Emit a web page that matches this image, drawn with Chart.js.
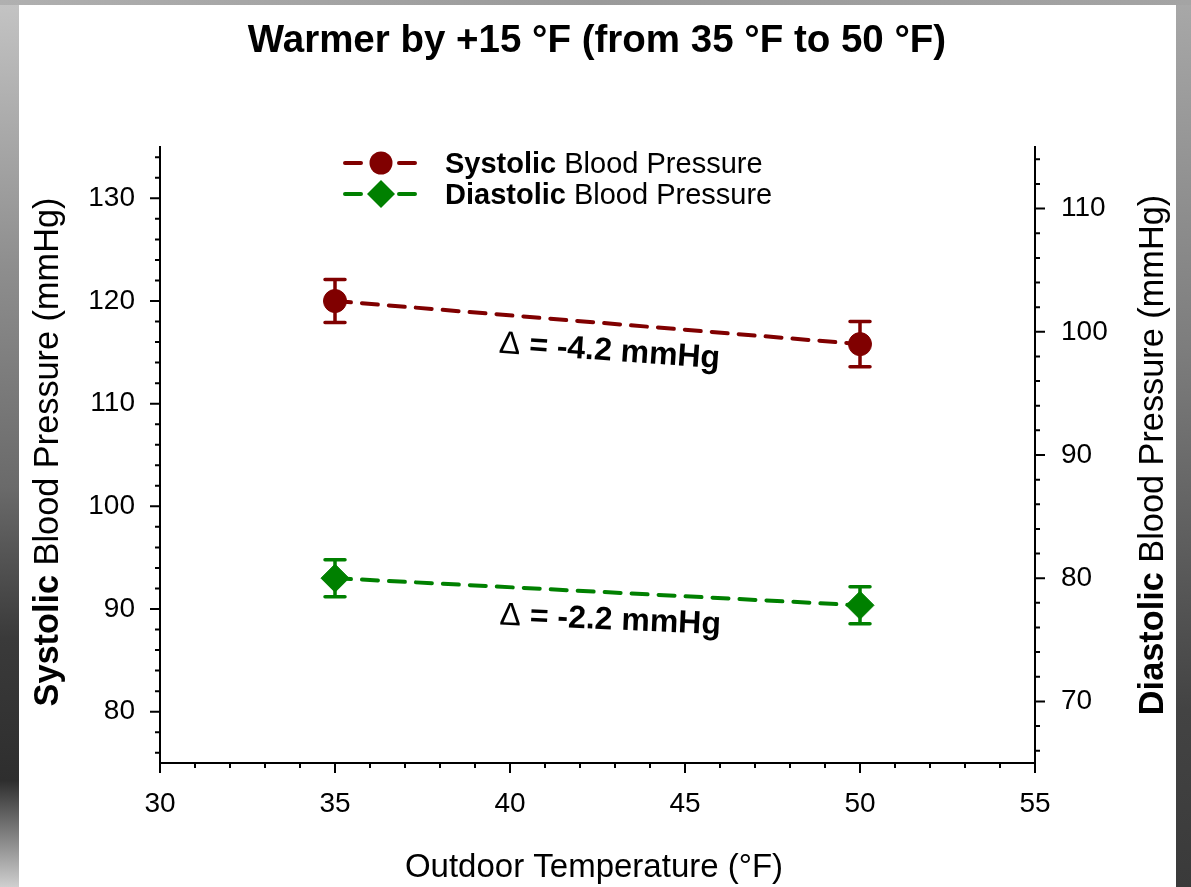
<!DOCTYPE html>
<html>
<head>
<meta charset="utf-8">
<title>Warmer by +15 °F</title>
<script src="https://cdn.jsdelivr.net/npm/chart.js@4"></script>
<style>
  html, body { margin: 0; padding: 0; background: #fff; }
  canvas { display: block; }
</style>
</head>
<body>
<canvas id="bpChart" width="1191" height="887"></canvas>
<script>
// data
const temps = [35, 50];
const systolic = [120.0, 115.8];
const systolicErr = [2.1, 2.2];
const diastolic = [80.0, 77.8];
const diastolicErr = [1.5, 1.5];
const deltaText = ['-4.2 mmHg', '-2.2 mmHg'];

// axis ranges and tick labels
const xRange = [30, 55];
const xLabels = [30, 35, 40, 45, 50, 55];
const sysRange = [75, 135];
const sysLabels = [80, 90, 100, 110, 120, 130];
const diaRange = [65, 115];
const diaLabels = [70, 80, 90, 100, 110];

const titleText = 'Warmer by +15 °F (from 35 °F to 50 °F)';
const xTitle = 'Outdoor Temperature (°F)';
const FONT = '"Liberation Sans", Arial, sans-serif';
const RED = '#800000';
const GREEN = '#008000';

function minorTicks(lo, hi, step) {
  const out = [];
  for (let v = Math.ceil(lo / step) * step; v <= hi; v += step) out.push({ value: v });
  return out;
}

// draws text made of bold and regular pieces, centred on x
function drawMixed(ctx, parts, x, y, size) {
  let total = 0;
  parts.forEach(p => {
    ctx.font = (p.bold ? 'bold ' : '') + size + 'px ' + FONT;
    p.w = ctx.measureText(p.t).width;
    total += p.w;
  });
  let cx = x - total / 2;
  ctx.textAlign = 'left';
  parts.forEach(p => {
    ctx.font = (p.bold ? 'bold ' : '') + size + 'px ' + FONT;
    ctx.fillText(p.t, cx, y);
    cx += p.w;
  });
}

const backdrop = {
  id: 'backdrop',
  beforeDraw(chart) {
    const ctx = chart.ctx;
    const w = chart.width, h = chart.height;
    ctx.save();
    const gl = ctx.createLinearGradient(0, 0, 0, h);
    gl.addColorStop(0, '#c4c4c4');
    gl.addColorStop(0.3, '#8e8e8e');
    gl.addColorStop(0.55, '#6a6a6a');
    gl.addColorStop(0.72, '#3a3a3a');
    gl.addColorStop(0.88, '#2e2e2e');
    gl.addColorStop(1, '#cfcfcf');
    ctx.fillStyle = gl;
    ctx.fillRect(0, 0, 20, h);
    const gr = ctx.createLinearGradient(0, 0, 0, h);
    gr.addColorStop(0, '#a8a8a8');
    gr.addColorStop(0.4, '#7c7c7c');
    gr.addColorStop(0.8, '#434343');
    gr.addColorStop(1, '#3a3a3a');
    ctx.fillStyle = gr;
    ctx.fillRect(w - 15, 0, 15, h);
    const gt = ctx.createLinearGradient(0, 0, w, 0);
    gt.addColorStop(0, '#b0b0b0');
    gt.addColorStop(0.5, '#9a9a9a');
    gt.addColorStop(1, '#a4a4a4');
    ctx.fillStyle = gt;
    ctx.fillRect(0, 0, w, 5);
    ctx.fillStyle = '#ffffff';
    ctx.fillRect(19, 5, w - 15 - 19, h - 5);
    ctx.restore();
  }
};

const tickMarks = {
  id: 'tickMarks',
  afterDraw(chart) {
    const { ctx, chartArea: a, scales } = chart;
    ctx.save();
    ctx.strokeStyle = '#000';
    ctx.lineWidth = 2;
    ctx.beginPath();
    scales.x.ticks.forEach(t => {
      const p = scales.x.getPixelForValue(t.value);
      const len = xLabels.includes(t.value) ? 10 : 5;
      ctx.moveTo(p, a.bottom);
      ctx.lineTo(p, a.bottom + len);
    });
    scales.y.ticks.forEach(t => {
      const p = scales.y.getPixelForValue(t.value);
      const len = sysLabels.includes(t.value) ? 10 : 5;
      ctx.moveTo(a.left, p);
      ctx.lineTo(a.left - len, p);
    });
    scales.y2.ticks.forEach(t => {
      const p = scales.y2.getPixelForValue(t.value);
      const len = diaLabels.includes(t.value) ? 10 : 5;
      ctx.moveTo(a.right, p);
      ctx.lineTo(a.right + len, p);
    });
    ctx.stroke();
    ctx.restore();
  }
};

const errorBars = {
  id: 'errorBars',
  beforeDatasetsDraw(chart) {
    const ctx = chart.ctx;
    const sets = [[0, systolicErr, 'y', RED], [1, diastolicErr, 'y2', GREEN]];
    ctx.save();
    ctx.lineWidth = 3.5;
    ctx.lineCap = 'round';
    sets.forEach(([i, errs, axis, color]) => {
      const meta = chart.getDatasetMeta(i);
      const ys = chart.scales[axis];
      ctx.strokeStyle = color;
      meta.data.forEach((pt, j) => {
        const v = chart.data.datasets[i].data[j].y;
        const top = ys.getPixelForValue(v + errs[j]);
        const bot = ys.getPixelForValue(v - errs[j]);
        ctx.beginPath();
        ctx.moveTo(pt.x, top);
        ctx.lineTo(pt.x, bot);
        ctx.moveTo(pt.x - 10, top);
        ctx.lineTo(pt.x + 10, top);
        ctx.moveTo(pt.x - 10, bot);
        ctx.lineTo(pt.x + 10, bot);
        ctx.stroke();
      });
    });
    ctx.restore();
  }
};

const deltaNotes = {
  id: 'deltaNotes',
  afterDatasetsDraw(chart) {
    const ctx = chart.ctx;
    ctx.save();
    ctx.fillStyle = '#000';
    ctx.textBaseline = 'alphabetic';
    [0, 1].forEach(i => {
      const pts = chart.getDatasetMeta(i).data;
      const p0 = pts[0], p1 = pts[1];
      const ang = Math.atan2(p1.y - p0.y, p1.x - p0.x);
      ctx.save();
      ctx.translate((p0.x + p1.x) / 2, (p0.y + p1.y) / 2);
      ctx.rotate(ang * 0.85);
      drawMixed(ctx, [{ t: 'Δ', bold: false }, { t: ' = ' + deltaText[i], bold: true }], 14, 37, 32);
      ctx.restore();
    });
    ctx.restore();
  }
};

const textLayer = {
  id: 'textLayer',
  afterDraw(chart) {
    const ctx = chart.ctx;
    ctx.save();
    ctx.fillStyle = '#000';
    ctx.textBaseline = 'alphabetic';
    // title
    drawMixed(ctx, [{ t: titleText, bold: true }], 597, 52, 38.5);
    // x axis title
    drawMixed(ctx, [{ t: xTitle, bold: false }], 594, 877, 33);
    // left axis title
    ctx.save();
    ctx.translate(58, 452);
    ctx.rotate(-Math.PI / 2);
    drawMixed(ctx, [{ t: 'Systolic', bold: true }, { t: ' Blood Pressure (mmHg)', bold: false }], 0, 0, 34.3);
    ctx.restore();
    // right axis title
    ctx.save();
    ctx.translate(1163, 455);
    ctx.rotate(-Math.PI / 2);
    drawMixed(ctx, [{ t: 'Diastolic', bold: true }, { t: ' Blood Pressure (mmHg)', bold: false }], 0, 0, 34.3);
    ctx.restore();

    // legend
    const rows = [
      { y: 163, color: RED, shape: 'circle', name: 'Systolic' },
      { y: 194, color: GREEN, shape: 'diamond', name: 'Diastolic' }
    ];
    rows.forEach(r => {
      ctx.strokeStyle = r.color;
      ctx.fillStyle = r.color;
      ctx.lineWidth = 4;
      ctx.lineCap = 'round';
      ctx.beginPath();
      ctx.moveTo(345, r.y); ctx.lineTo(361, r.y);
      ctx.moveTo(399, r.y); ctx.lineTo(415, r.y);
      ctx.stroke();
      ctx.beginPath();
      if (r.shape === 'circle') {
        ctx.arc(381, r.y, 11.5, 0, Math.PI * 2);
      } else {
        ctx.moveTo(381 - 14, r.y); ctx.lineTo(381, r.y - 14);
        ctx.lineTo(381 + 14, r.y); ctx.lineTo(381, r.y + 14);
        ctx.closePath();
      }
      ctx.fill();
      ctx.fillStyle = '#000';
      const parts = [{ t: r.name, bold: true }, { t: ' Blood Pressure', bold: false }];
      let x = 445;
      parts.forEach(p => {
        ctx.font = (p.bold ? 'bold ' : '') + '29px ' + FONT;
        ctx.textAlign = 'left';
        ctx.fillText(p.t, x, r.y + 10);
        x += ctx.measureText(p.t).width;
      });
    });
    ctx.restore();
  }
};

const tickFont = { family: FONT, size: 28 };

new Chart(document.getElementById('bpChart'), {
  type: 'line',
  data: {
    datasets: [
      {
        label: 'Systolic Blood Pressure',
        data: temps.map((t, i) => ({ x: t, y: systolic[i] })),
        yAxisID: 'y',
        borderColor: RED,
        backgroundColor: RED,
        borderWidth: 4,
        borderDash: [16, 11],
        borderCapStyle: 'round',
        pointStyle: 'circle',
        pointRadius: 11.5,
        pointBorderWidth: 1,
        pointBackgroundColor: RED,
        pointBorderColor: RED,
        fill: false
      },
      {
        label: 'Diastolic Blood Pressure',
        data: temps.map((t, i) => ({ x: t, y: diastolic[i] })),
        yAxisID: 'y2',
        borderColor: GREEN,
        backgroundColor: GREEN,
        borderWidth: 4,
        borderDash: [16, 11],
        borderCapStyle: 'round',
        pointStyle: 'rectRot',
        pointRadius: 14,
        pointBorderWidth: 1,
        pointBackgroundColor: GREEN,
        pointBorderColor: GREEN,
        fill: false
      }
    ]
  },
  options: {
    responsive: false,
    animation: false,
    devicePixelRatio: 1,
    layout: { padding: { top: 147, left: 0, right: 0, bottom: 0 } },
    plugins: {
      legend: { display: false },
      tooltip: { enabled: false },
      title: { display: false }
    },
    scales: {
      x: {
        type: 'linear',
        position: 'bottom',
        min: xRange[0],
        max: xRange[1],
        afterBuildTicks: s => { s.ticks = minorTicks(xRange[0], xRange[1], 1); },
        afterFit: s => { s.height = 124; },
        grid: { display: true, drawOnChartArea: false, drawTicks: true, tickLength: 10, tickColor: 'rgba(0,0,0,0)' },
        border: { display: true, color: '#000', width: 2 },
        ticks: {
          autoSkip: false, maxRotation: 0, color: '#000', font: tickFont, padding: 14,
          callback: v => xLabels.includes(v) ? String(v) : ''
        }
      },
      y: {
        type: 'linear',
        position: 'left',
        min: sysRange[0],
        max: sysRange[1],
        afterBuildTicks: s => { s.ticks = minorTicks(sysRange[0], sysRange[1], 2); },
        afterFit: s => { s.width = 160; },
        grid: { display: true, drawOnChartArea: false, drawTicks: true, tickLength: 10, tickColor: 'rgba(0,0,0,0)' },
        border: { display: true, color: '#000', width: 2 },
        ticks: {
          autoSkip: false, color: '#000', font: tickFont, padding: 15,
          callback: v => sysLabels.includes(v) ? String(v) : ''
        }
      },
      y2: {
        type: 'linear',
        position: 'right',
        min: diaRange[0],
        max: diaRange[1],
        afterBuildTicks: s => { s.ticks = minorTicks(diaRange[0], diaRange[1], 2); },
        afterFit: s => { s.width = 156; },
        grid: { display: true, drawOnChartArea: false, drawTicks: true, tickLength: 10, tickColor: 'rgba(0,0,0,0)' },
        border: { display: true, color: '#000', width: 2 },
        ticks: {
          autoSkip: false, color: '#000', font: tickFont, padding: 16,
          callback: v => diaLabels.includes(v) ? String(v) : ''
        }
      }
    }
  },
  plugins: [backdrop, errorBars, deltaNotes, tickMarks, textLayer]
});
</script>
</body>
</html>
